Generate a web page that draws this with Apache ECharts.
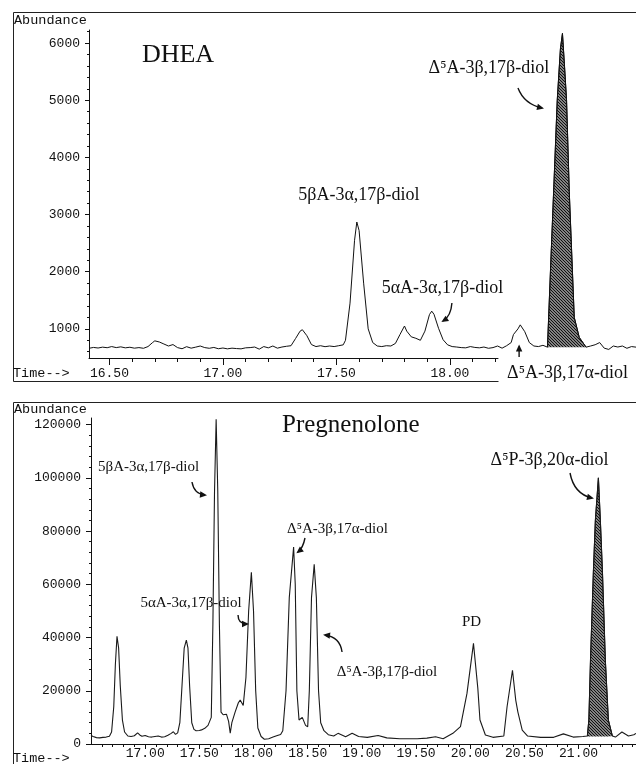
<!DOCTYPE html>
<html><head><meta charset="utf-8">
<script src="https://cdn.jsdelivr.net/npm/echarts@6/dist/echarts.min.js"></script>
<style>html,body{margin:0;padding:0;background:#fff}#c{width:636px;height:764px}</style>
</head><body><div id="c"></div>
<script>
// ---------- DHEA chromatogram (time min, abundance) ----------
const dheaPre = [[16.41,660],[16.43,675],[16.45,665],[16.47,680],[16.49,670],[16.51,690],[16.53,672],[16.55,685],[16.57,668],[16.59,678],[16.61,662],[16.63,672],[16.65,660],[16.67,690],[16.69,760],[16.70,790],[16.72,770],[16.74,735],[16.76,700],[16.78,725],[16.80,672],[16.82,652],[16.84,688],[16.86,662],[16.88,680],[16.90,700],[16.92,672],[16.94,660],[16.96,675],[16.98,652],[17.00,665],[17.02,650],[17.04,662],[17.06,655],[17.08,650],[17.10,668],[17.12,672],[17.14,682],[17.16,645],[17.18,690],[17.20,668],[17.22,700],[17.24,662],[17.26,682],[17.28,695],[17.30,705],[17.32,830],[17.34,960],[17.35,985],[17.37,880],[17.39,725],[17.41,690],[17.43,705],[17.45,688],[17.47,700],[17.49,690],[17.51,705],[17.53,720],[17.54,800],[17.56,1450],[17.58,2550],[17.59,2870],[17.60,2720],[17.62,1800],[17.64,1000],[17.66,760],[17.68,700],[17.70,690],[17.72,705],[17.74,700],[17.76,745],[17.78,900],[17.80,1050],[17.81,960],[17.83,860],[17.85,835],[17.87,800],[17.89,960],[17.91,1250],[17.92,1310],[17.93,1255],[17.95,1010],[17.97,810],[17.99,720],[18.01,690],[18.03,682],[18.05,672],[18.07,668],[18.09,690],[18.11,675],[18.13,668],[18.15,682],[18.17,660],[18.19,672],[18.21,700],[18.23,662],[18.25,705],[18.27,760],[18.28,900],[18.30,1000],[18.31,1070],[18.33,950],[18.35,760],[18.37,700],[18.39,690],[18.41,712]];
const dheaPeak = [[18.43,680],[18.443,2000],[18.457,3400],[18.473,5000],[18.487,5900],[18.496,6170],[18.505,5600],[18.514,5000],[18.526,3400],[18.54,2000],[18.548,1200],[18.57,850],[18.60,680]];
const dheaPost = [[18.62,700],[18.64,722],[18.66,760],[18.68,662],[18.70,640],[18.72,700],[18.74,682],[18.76,700],[18.78,660],[18.80,690],[18.82,680]];

// ---------- Pregnenolone chromatogram ----------
const pregPre = [[16.50,3200],[16.52,2800],[16.55,2400],[16.58,2300],[16.61,2500],[16.64,2600],[16.67,2900],[16.69,4500],[16.71,14000],[16.725,30000],[16.74,40500],[16.755,36000],[16.77,22000],[16.79,9000],[16.81,4500],[16.84,3000],[16.87,2800],[16.90,3100],[16.93,4200],[16.95,3400],[16.97,2900],[17.00,3200],[17.03,2700],[17.06,2600],[17.09,2800],[17.12,3000],[17.15,2600],[17.18,2700],[17.21,3300],[17.24,4000],[17.26,4600],[17.28,3600],[17.30,4200],[17.32,8000],[17.34,22000],[17.36,36000],[17.38,39000],[17.395,36000],[17.41,22000],[17.43,8000],[17.45,5500],[17.47,5000],[17.50,5100],[17.52,5300],[17.55,5900],[17.58,7000],[17.61,10000],[17.625,45000],[17.64,95000],[17.655,122000],[17.67,95000],[17.685,45000],[17.70,12000],[17.72,11000],[17.75,11200],[17.77,8500],[17.785,4100],[17.80,8000],[17.83,12000],[17.86,15500],[17.877,16500],[17.905,14500],[17.93,25000],[17.955,50000],[17.98,64500],[18.00,50000],[18.02,20000],[18.04,6000],[18.07,2800],[18.10,1800],[18.14,2000],[18.18,2600],[18.22,3200],[18.25,3600],[18.27,5000],[18.30,20000],[18.33,55000],[18.37,74000],[18.385,60000],[18.40,20000],[18.42,9000],[18.45,10000],[18.48,7000],[18.50,6500],[18.515,20000],[18.535,55000],[18.56,67500],[18.58,55000],[18.60,20000],[18.62,8000],[18.65,5000],[18.69,3500],[18.74,3000],[18.78,4000],[18.85,2700],[18.91,4000],[18.97,2800],[19.05,2500],[19.15,3200],[19.23,2300],[19.35,2000],[19.51,2000],[19.60,2200],[19.68,2700],[19.75,2000],[19.84,4000],[19.91,6500],[19.97,19000],[20.03,37800],[20.07,21000],[20.09,9000],[20.14,3400],[20.21,2500],[20.31,3000],[20.34,14000],[20.39,27700],[20.42,16500],[20.44,12000],[20.48,5200],[20.53,3000],[20.65,2500],[20.77,2500],[20.86,3800],[20.95,2600],[21.04,2800]];
const pregPeak = [[21.081,3000],[21.095,9000],[21.11,31500],[21.137,65000],[21.155,84000],[21.183,100000],[21.201,84000],[21.22,65000],[21.247,31500],[21.275,9000],[21.312,3000]];
const pregPost = [[21.34,2600],[21.40,4500],[21.46,3000],[21.51,3500],[21.53,4000]];

// ---------- ticks ----------
const dheaTimeLabels = [16.5, 17.0, 17.5, 18.0];
const dheaTimeMinor = [16.6,16.7,16.8,16.9,17.1,17.2,17.3,17.4,17.6,17.7,17.8,17.9,18.1,18.2];
const dheaYLabels = [1000,2000,3000,4000,5000,6000];
const dheaYMinor = [600,800,1200,1400,1600,1800,2200,2400,2600,2800,3200,3400,3600,3800,4200,4400,4600,4800,5200,5400,5600,5800,6200];
const pregTimeLabels = [17.0,17.5,18.0,18.5,19.0,19.5,20.0,20.5,21.0];
const pregTimeMinor = [16.6,16.7,16.8,16.9,17.1,17.2,17.3,17.4,17.6,17.7,17.8,17.9,18.1,18.2,18.3,18.4,18.6,18.7,18.8,18.9,19.1,19.2,19.3,19.4,19.6,19.7,19.8,19.9,20.1,20.2,20.3,20.4,20.6,20.7,20.8,20.9,21.1,21.2,21.3,21.4,21.5];
const pregYLabels = [0,20000,40000,60000,80000,100000,120000];
const pregYMinor = [4000,8000,12000,16000,24000,28000,32000,36000,44000,48000,52000,56000,64000,68000,72000,76000,84000,88000,92000,96000,104000,108000,112000,116000,120000];

// ---------- annotations (data coordinates) ----------
const dheaNotes = [
  ['DHEA', 16.643, 5792, 26, 'left'],
  ['Δ⁵A-3β,17β-diol', 18.172, 5565, 18, 'center'],
  ['5βA-3α,17β-diol', 17.599, 3342, 18, 'center'],
  ['5αA-3α,17β-diol', 17.967, 1715, 18, 'center'],
  ['Δ⁵A-3β,17α-diol', 18.252, 227, 18, 'left']
];
const dheaArrows = [
  [[18.300,5215],[18.327,4935],[18.406,4865]],
  [[18.009,1452],[18.005,1225],[17.970,1137]],
  [[18.305,507],[18.305,600],[18.305,690]]
];
const pregNotes = [
  ['Pregnenolone', 18.263, 119870, 25, 'left'],
  ['5βA-3α,17β-diol', 17.031, 104087, 15, 'center'],
  ['5αA-3α,17β-diol', 17.423, 52982, 15, 'center'],
  ['Δ⁵A-3β,17α-diol', 18.775, 80789, 15, 'center'],
  ['Δ⁵A-3β,17β-diol', 19.232, 27054, 15, 'center'],
  ['PD', 20.012, 45843, 15, 'center'],
  ['Δ⁵P-3β,20α-diol', 20.732, 106717, 18, 'center']
];
const pregArrows = [
  [[17.432,98450],[17.451,93940],[17.552,93565]],
  [[17.857,48473],[17.857,45091],[17.940,45091]],
  [[18.475,77407],[18.457,73650],[18.410,72146]],
  [[18.817,34569],[18.798,40205],[18.660,40957]],
  [[20.921,101833],[20.958,93941],[21.124,92438]]
];

const MONO = '"Liberation Mono", "DejaVu Sans Mono", monospace';
const SERIF = '"Liberation Serif", "DejaVu Serif", serif';
const INK = '#111';

function hatch() {
  const c = document.createElement('canvas');
  c.width = 3; c.height = 3;
  const g = c.getContext('2d');
  g.fillStyle = '#fff'; g.fillRect(0,0,3,3);
  g.strokeStyle = '#111'; g.lineWidth = 1.5;
  g.beginPath();
  g.moveTo(-1,-1); g.lineTo(4,4);
  g.moveTo(-1,2); g.lineTo(1,4);
  g.moveTo(2,-1); g.lineTo(4,1);
  g.stroke();
  return c;
}
const pattern = { image: hatch(), repeat: 'repeat' };

function majorX(grid, min, max, labels, tickLen, margin) {
  return { type:'value', gridIndex:grid, min:min, max:max, position:'bottom',
    axisLine:{show:true, onZero:false, lineStyle:{color:INK, width:1}},
    axisTick:{show:true, length:tickLen, customValues:labels, lineStyle:{color:INK}},
    axisLabel:{customValues:labels, margin:margin, fontFamily:MONO, fontSize:13, color:INK,
      formatter:v => v.toFixed(2)},
    splitLine:{show:false} };
}
function minorX(grid, min, max, vals, len) {
  return { type:'value', gridIndex:grid, min:min, max:max, position:'bottom',
    axisLine:{show:false, onZero:false}, axisTick:{show:true, length:len, customValues:vals, lineStyle:{color:INK}},
    axisLabel:{show:false}, splitLine:{show:false} };
}
function majorY(grid, min, max, labels, tickLen, margin) {
  return { type:'value', gridIndex:grid, min:min, max:max, position:'left',
    axisLine:{show:true, onZero:false, lineStyle:{color:INK, width:1}},
    axisTick:{show:true, length:tickLen, customValues:labels, lineStyle:{color:INK}},
    axisLabel:{customValues:labels, margin:margin, fontFamily:MONO, fontSize:13, color:INK,
      formatter:v => String(v)},
    splitLine:{show:false} };
}
function minorY(grid, min, max, vals, len) {
  return { type:'value', gridIndex:grid, min:min, max:max, position:'left',
    axisLine:{show:false, onZero:false}, axisTick:{show:true, length:len, customValues:vals, lineStyle:{color:INK}},
    axisLabel:{show:false}, splitLine:{show:false} };
}

const chart = echarts.init(document.getElementById('c'), null, {renderer:'canvas'});
chart.setOption({
  animation:false,
  backgroundColor:'#fff',
  grid:[
    {left:89, right:0, top:30, bottom:406},
    {left:89, width:409, top:30, bottom:406},
    {left:91, right:0, top:418, bottom:20}
  ],
  xAxis:[
    {type:'value', gridIndex:0, min:16.41, max:18.82, show:false},
    majorX(1, 16.41, 18.212, dheaTimeLabels, 7, 9),
    minorX(1, 16.41, 18.212, dheaTimeMinor, 4),
    majorX(2, 16.5, 21.53, pregTimeLabels, 5, 3),
    minorX(2, 16.5, 21.53, pregTimeMinor, 3)
  ],
  yAxis:[
    majorY(0, 490, 6230, dheaYLabels, 4, 9),
    minorY(0, 490, 6230, dheaYMinor, 2),
    {type:'value', gridIndex:1, min:490, max:6230, show:false},
    majorY(2, 0, 122500, pregYLabels, 5, 10),
    minorY(2, 0, 122500, pregYMinor, 2)
  ],
  series:[
    {type:'line', xAxisIndex:0, yAxisIndex:0, data:dheaPre.concat(dheaPeak, dheaPost),
      showSymbol:false, symbol:'none', lineStyle:{color:INK, width:1}, z:3},
    {type:'line', xAxisIndex:0, yAxisIndex:0, data:dheaPeak,
      showSymbol:false, symbol:'none', lineStyle:{color:INK, width:1},
      areaStyle:{color:pattern, opacity:1, origin:680}, z:2},
    {type:'line', xAxisIndex:3, yAxisIndex:3, data:pregPre.concat(pregPeak, pregPost),
      showSymbol:false, symbol:'none', lineStyle:{color:'#1a1a1a', width:1.1}, z:3},
    {type:'line', xAxisIndex:3, yAxisIndex:3, data:pregPeak,
      showSymbol:false, symbol:'none', lineStyle:{color:INK, width:1},
      areaStyle:{color:pattern, opacity:1, origin:2800}, z:2}
  ]
});

const g = [];
// frame lines (panel borders)
const frameLines = [[13,12,636,12],[13,12,13,381],[13,381,498,381],[13,402,636,402],[13,402,13,764]];
frameLines.forEach(l => g.push({type:'line', shape:{x1:l[0]+0.5,y1:l[1]+0.5,x2:l[2]+0.5,y2:l[3]+0.5}, style:{stroke:'#222', lineWidth:1}, silent:true}));
// axis captions
[['Abundance',14,20],['Time-->',13,373],['Abundance',14,409],['Time-->',13,758]].forEach(t =>
  g.push({type:'text', x:t[1], y:t[2], style:{text:t[0], fontFamily:MONO, fontSize:13.5, fill:INK, align:'left', verticalAlign:'middle'}}));

function addNotes(notes, arrows, xi, yi) {
  const cv = p => chart.convertToPixel({xAxisIndex:xi, yAxisIndex:yi}, p);
  notes.forEach(n => {
    const p = cv([n[1], n[2]]);
    g.push({type:'text', x:p[0], y:p[1], z:20, style:{text:n[0], fontFamily:SERIF, fontSize:n[3], fill:INK, align:n[4], verticalAlign:'middle'}});
  });
  arrows.forEach(a => {
    const s = cv(a[0]), c = cv(a[1]), e = cv(a[2]);
    g.push({type:'bezierCurve', z:20, shape:{x1:s[0],y1:s[1],x2:e[0],y2:e[1],cpx1:c[0],cpy1:c[1]}, style:{stroke:INK, lineWidth:1.4, fill:null}});
    let dx = e[0]-c[0], dy = e[1]-c[1];
    const L = Math.hypot(dx,dy) || 1; dx/=L; dy/=L;
    const nx = -dy, ny = dx;
    const tip = [e[0]+dx*2, e[1]+dy*2];
    const b = [e[0]-dx*5, e[1]-dy*5];
    g.push({type:'polygon', z:21, shape:{points:[tip,[b[0]+nx*3.2,b[1]+ny*3.2],[b[0]-nx*3.2,b[1]-ny*3.2]]}, style:{fill:INK}});
  });
}
addNotes(dheaNotes, dheaArrows, 0, 0);
addNotes(pregNotes, pregArrows, 3, 3);
chart.setOption({graphic:{elements:g}});
</script></body></html>
